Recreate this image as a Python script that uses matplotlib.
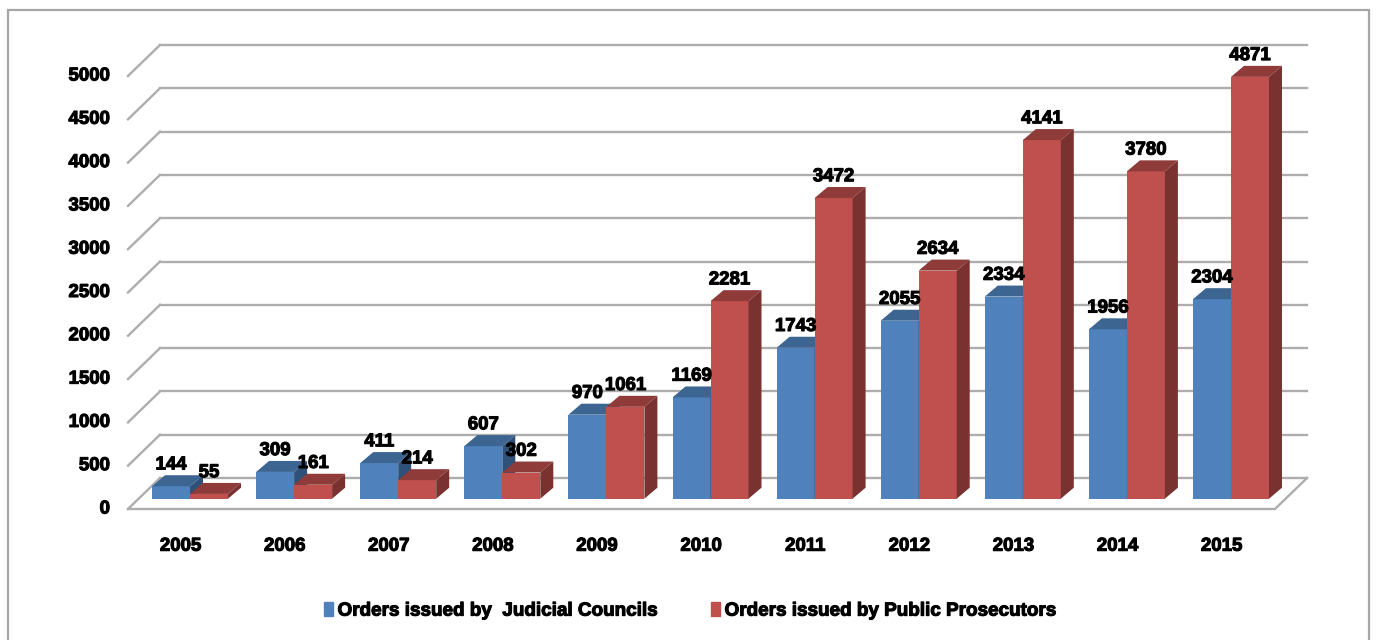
import numpy as np
import matplotlib
matplotlib.use('Agg')
import matplotlib.pyplot as plt
from matplotlib.patches import Rectangle, Patch
import matplotlib.patheffects as pe

years = ['2005', '2006', '2007', '2008', '2009', '2010', '2011', '2012', '2013', '2014', '2015']
judicial = [144, 309, 411, 607, 970, 1169, 1743, 2055, 2334, 1956, 2304]
prosecutors = [55, 161, 214, 302, 1061, 2281, 3472, 2634, 4141, 3780, 4871]
y_ticks = [0, 500, 1000, 1500, 2000, 2500, 3000, 3500, 4000, 4500, 5000]
series_names = ['Orders issued by  Judicial Councils', 'Orders issued by Public Prosecutors']

W, H = 1376, 640
PX_X = 104.1    # pixels per category
PX_Y = 0.0866   # pixels per value unit
BASE_X, BASE_Y = 190.0, 498.7

BAR_W = 38 / PX_X
DEPTH_X = 13 / PX_X
DEPTH_Y = 11 / PX_Y
FLOOR_FRONT = -10.3 / PX_Y
FLOOR_BACK = 20.7 / PX_Y
FLOOR_DX = 32 / PX_X
LEFT = (128 - BASE_X) / PX_X
RIGHT = (1275 - BASE_X) / PX_X

BLUE = ('#4F81BD', '#3C6592', '#2F5077')
RED = ('#C0504D', '#8E3B39', '#7A3230')
FONT = {'family': 'Liberation Sans', 'fontweight': 'bold', 'color': 'black'}
THICK = [pe.withStroke(linewidth=0.8, foreground='black')]

fig = plt.figure(figsize=(W / 100, H / 100), dpi=100)
ax = fig.add_axes([0, 0, 1, 1])
ax.set_xlim(-BASE_X / PX_X, (W - BASE_X) / PX_X)
ax.set_ylim((BASE_Y - H) / PX_Y, BASE_Y / PX_Y)
ax.axis('off')

# outer frame, runs off the bottom of the image
fig.add_artist(Rectangle((7.5 / W, -0.05), (1369 - 7.5) / W, 1.05 - 10 / H, transform=fig.transFigure,
                         fill=False, edgecolor='#a6a6a6', linewidth=1.6))

GRID = '#adadad'
for v in y_ticks:
    # back wall line and the slanted piece on the side wall
    ax.plot([LEFT + FLOOR_DX, RIGHT + FLOOR_DX], [v + FLOOR_BACK, v + FLOOR_BACK], color=GRID, lw=1.7, zorder=1)
    ax.plot([LEFT, LEFT + FLOOR_DX], [v + FLOOR_FRONT, v + FLOOR_BACK], color=GRID, lw=1.7, zorder=1)
    ax.text(LEFT - 18 / PX_X, v + FLOOR_FRONT, str(v), ha='right', va='center', fontsize=13.4,
            path_effects=THICK, **FONT)

# floor
ax.plot([LEFT, RIGHT, RIGHT + FLOOR_DX], [FLOOR_FRONT, FLOOR_FRONT, FLOOR_BACK], color=GRID, lw=1.7, zorder=1)


def draw_bar(x, val, colors, z):
    ax.fill([x, x + BAR_W, x + BAR_W, x], [0, 0, val, val], color=colors[0], lw=0, zorder=z)
    ax.fill([x, x + BAR_W, x + BAR_W + DEPTH_X, x + DEPTH_X], [val, val, val + DEPTH_Y, val + DEPTH_Y],
            color=colors[1], lw=0, zorder=z)
    ax.fill([x + BAR_W, x + BAR_W + DEPTH_X, x + BAR_W + DEPTH_X, x + BAR_W],
            [0, DEPTH_Y, val + DEPTH_Y, val], color=colors[2], lw=0, zorder=z)


for i, year in enumerate(years):
    draw_bar(i - BAR_W, judicial[i], BLUE, 2 + i * 0.01)
    draw_bar(i, prosecutors[i], RED, 2.005 + i * 0.01)
    for x, val in ((i - BAR_W / 2, judicial[i]), (i + BAR_W / 2, prosecutors[i])):
        ax.annotate(str(val), (x, val + DEPTH_Y), xytext=(0, 1.3), textcoords='offset points',
                    ha='center', va='bottom', fontsize=13.4, zorder=5, path_effects=THICK, **FONT)
    ax.text(i - 0.09, -47.5 / PX_Y, year, ha='center', va='center', fontsize=13.4, path_effects=THICK, **FONT)

handles = [Patch(color=BLUE[0], label=series_names[0]), Patch(color=RED[0], label=series_names[1])]
leg = fig.legend(handles=handles, loc='center', bbox_to_anchor=(690 / W, 1 - 611 / H), ncol=2, frameon=False,
                 handlelength=0.45, handleheight=0.7, handletextpad=0.25, columnspacing=2.85,
                 prop={'family': 'Liberation Sans', 'weight': 'bold', 'size': 13.6})
for t in leg.get_texts():
    t.set_path_effects(THICK)

fig.savefig('out.png', dpi=100)
